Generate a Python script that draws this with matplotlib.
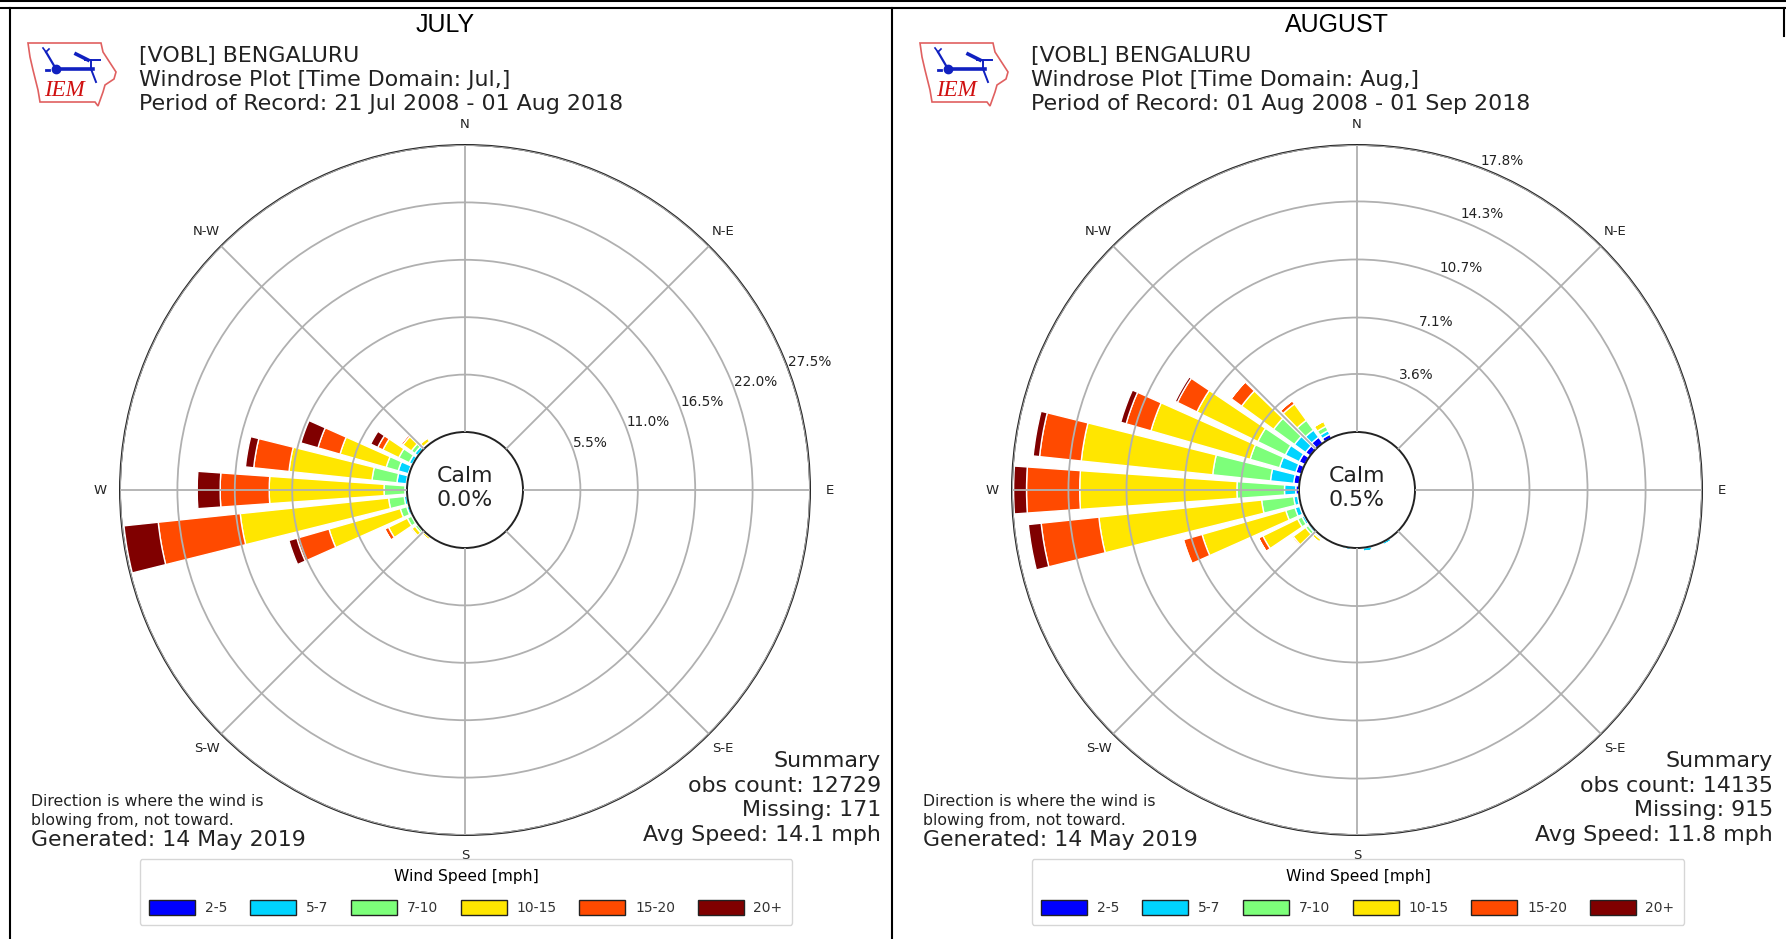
import numpy as np
import matplotlib
matplotlib.use("Agg")
import matplotlib.pyplot as plt
from matplotlib.patches import Patch, Polygon

W, H = 1786, 939

speed_labels = ["2-5", "5-7", "7-10", "10-15", "15-20", "20+"]
colors = ["#0000ff", "#00d4ff", "#7dff7a", "#ffe600", "#ff4a00", "#800000"]

july_dirs = [220, 230, 240, 250, 260, 270, 280, 290, 300, 310, 320]
july_2_5 = [.02, .02, .03, .03, .05, .05, .1, .1, .05, .05, .02]
july_5_7 = [.03, .08, .12, .22, .25, .15, .9, 1.0, .35, .35, .08]
july_7_10 = [.05, .25, .45, .65, 1.5, 2.0, 2.4, 1.2, 1.1, .4, .1]
july_10_15 = [.25, .4, 2.0, 7.1, 14.3, 11.0, 8.0, 4.6, 1.7, 1.0, .4]
july_15_20 = [0, .15, .4, 3.2, 7.9, 4.7, 3.4, 2.2, .55, .2, 0]
july_20 = [0, 0, 0, .8, 3.3, 2.2, .8, 1.7, .75, 0, 0]
july_rings = [5.5, 11.0, 16.5, 22.0, 27.5]

aug_dirs = [150, 170, 190, 220, 230, 240, 250, 260, 270, 280, 290, 300, 310, 320, 330, 340]
aug_2_5 = [.02, .02, .02, .02, .03, .05, .1, .1, .2, .35, .35, .4, .35, .45, .25, .1]
aug_5_7 = [.18, .23, .13, .08, .12, .15, .3, .25, .7, 1.45, 1.05, .95, .85, .55, .25, .05]
aug_7_10 = [0, 0, 0, .1, .2, .3, .6, 2.0, 2.95, 3.6, 1.9, 1.9, 1.6, .75, .3, 0]
aug_10_15 = [0, 0, 0, .2, .95, 2.4, 5.4, 10.15, 9.75, 8.2, 6.4, 4.2, 2.45, 1.25, .35, 0]
aug_15_20 = [0, 0, 0, 0, .1, .3, 1.2, 3.6, 3.3, 2.6, 1.6, 1.35, .8, .25, 0, 0]
aug_20 = [0, 0, 0, 0, 0, 0, .05, .8, .8, .4, .35, .15, 0, 0, 0, 0]
aug_rings = [3.6, 7.1, 10.7, 14.3, 17.8]

# logo outline and wind barb glyph, in pixels from the logo's top left corner
logo_x = [0, 73, 75, 88, 86, 77, 75, 70, 67, 12, 10, 5, 2, 0]
logo_y = [0, 0, 9, 29, 36, 42, 49, 63, 59, 59, 47, 27, 14, 0]
barb_lines = [
    ([28, 65], [26, 26], 2.6),
    ([28, 18], [26, 9], 1.6),
    ([18, 21], [9, 6], 1.2),
    ([18, 15], [9, 5], 1.2),
    ([48, 60], [11, 17], 2.6),
    ([57, 72], [17, 17], 1.4),
    ([63, 63], [17, 26], 1.4),
    ([63, 68], [26, 39], 1.4),
    ([18, 21], [27, 27], 2.0),
]

fig = plt.figure(figsize=(W / 100, H / 100), dpi=100)


def fx(x):
    return x / W


def fy(y):
    return 1 - y / H


def rose(cx, title, tx, head, dirs, bands, rings, rlabel_angle, calm, summary):
    cy, R, r0 = 490, 345, 58
    ax = fig.add_axes([fx(cx - R), fy(cy + R), 2 * R / W, 2 * R / H], projection="polar")
    ax.set_theta_zero_location("N")
    ax.set_theta_direction(-1)
    rmax = rings[-1]
    ax.set_rorigin(-rmax * r0 / (R - r0))
    ax.set_rlim(0, rmax)
    theta = np.radians(dirs)
    bottom = np.zeros(len(dirs))
    for vals, c in zip(bands, colors):
        ax.bar(theta, vals, width=np.radians(8), bottom=bottom, color=c, edgecolor="white", linewidth=1)
        bottom = bottom + np.array(vals)
    ax.set_axisbelow(False)
    ax.grid(True, color="#b0b0b0", linewidth=1.3)
    ax.set_thetagrids(range(0, 360, 45), ["N", "N-E", "E", "S-E", "S", "S-W", "W", "N-W"], fontsize=9.5, color="#222222")
    ax.set_rgrids(rings, [f"{v:.1f}%" for v in rings], angle=rlabel_angle, fontsize=9.8, color="#222222")
    ax.tick_params(axis="x", pad=4)
    for s in ax.spines.values():
        s.set_linewidth(1.4)
        s.set_color("#222222")

    fig.text(fx(cx), fy(488), f"Calm\n{calm}%", fontsize=15.8, ha="center", va="center", color="#222222")
    fig.text(fx(tx), fy(25), title, fontsize=18, family="Liberation Sans", ha="center", va="center", color="black")
    fig.text(fx(cx - 326), fy(80), "\n".join(head), fontsize=15.9, ha="left", va="center", color="#222222", linespacing=1.26)
    fig.text(fx(cx + 416), fy(798), "\n".join(summary), fontsize=15.9, ha="right", va="center", color="#222222", linespacing=1.29)
    fig.text(fx(cx - 434), fy(811), "Direction is where the wind is\nblowing from, not toward.", fontsize=11.3, ha="left", va="center", color="#222222", linespacing=1.25)
    fig.text(fx(cx - 434), fy(840), "Generated: 14 May 2019", fontsize=15.8, ha="left", va="center", color="#222222")

    handles = [Patch(facecolor=c, edgecolor="#222222", linewidth=1) for c in colors]
    leg = fig.legend(handles, speed_labels, title="Wind Speed [mph]", ncol=6, fontsize=10, title_fontsize=11.2,
                     loc="center", bbox_to_anchor=(fx(cx + 1), fy(892)), columnspacing=1.65, handlelength=3.3,
                     handleheight=1.3, handletextpad=0.7, borderpad=0.7, labelcolor="#333333", frameon=True)
    leg._legend_box.sep = 12

    # IEM logo
    lx, ly = cx - 437, 43
    pts = [(fx(lx + a), fy(ly + b)) for a, b in zip(logo_x, logo_y)]
    fig.add_artist(Polygon(pts, closed=True, fill=False, edgecolor="#e06060", linewidth=1.2, transform=fig.transFigure))
    fig.text(fx(lx + 36), fy(ly + 47), "IEM", fontsize=16.5, family="Liberation Serif", style="italic", color="#d01010", ha="center", va="center")
    for bx, by, lw in barb_lines:
        fig.add_artist(plt.Line2D([fx(lx + v) for v in bx], [fy(ly + v) for v in by], color="#1020c0", linewidth=lw, transform=fig.transFigure))
    fig.add_artist(plt.Line2D([fx(lx + 28)], [fy(ly + 26)], marker="o", markersize=6, color="#1020c0", transform=fig.transFigure))


rose(465, "JULY", 445,
     ["[VOBL] BENGALURU", "Windrose Plot [Time Domain: Jul,]", "Period of Record: 21 Jul 2008 - 01 Aug 2018"],
     july_dirs, [july_2_5, july_5_7, july_7_10, july_10_15, july_15_20, july_20], july_rings, 69.5, "0.0",
     ["Summary", "obs count: 12729", "Missing: 171", "Avg Speed: 14.1 mph"])
rose(1357, "AUGUST", 1337,
     ["[VOBL] BENGALURU", "Windrose Plot [Time Domain: Aug,]", "Period of Record: 01 Aug 2008 - 01 Sep 2018"],
     aug_dirs, [aug_2_5, aug_5_7, aug_7_10, aug_10_15, aug_15_20, aug_20], aug_rings, 21, "0.5",
     ["Summary", "obs count: 14135", "Missing: 915", "Avg Speed: 11.8 mph"])

# table rules of the source document
for x0, y0, x1, y1 in [(0, 1, 1786, 1), (0, 8, 1786, 8), (10, 8, 10, 939), (892, 8, 892, 939), (1784, 8, 1784, 36)]:
    fig.add_artist(plt.Line2D([fx(x0), fx(x1)], [fy(y0), fy(y1)], color="black", linewidth=1.5, transform=fig.transFigure))

fig.savefig("out.png", dpi=100)
